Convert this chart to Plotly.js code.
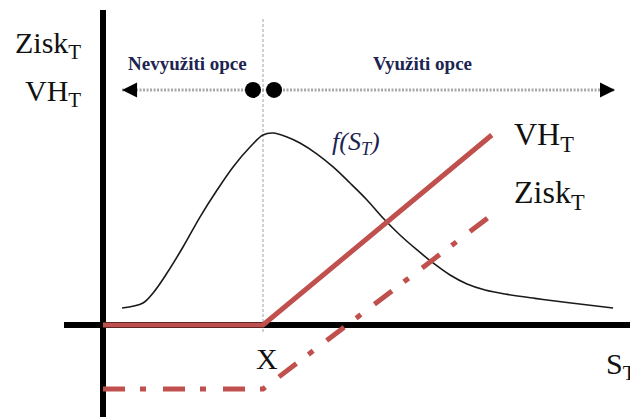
<!DOCTYPE html>
<html>
<head>
<meta charset="utf-8">
<script src="https://cdn.plot.ly/plotly-3.0.1.min.js"></script>
<style>html,body{margin:0;padding:0;background:#fff;}#chart{width:630px;height:417px;}</style>
</head>
<body>
<div id="chart"></div>
<script>
// ---- data (S_T in strike-relative units, strike X = 100) ----
var strike = 100;
var payoffS = [0, 100, 243];
var vhValues = [0, 0, 135.7];
var ziskValues = [-45.7, -45.7, 78.6];
var densityS = [11.9, 25.0, 31.3, 40.0, 50.0, 60.6, 71.3, 81.3, 91.9, 100.0, 106.3, 115.0, 123.1, 133.8, 143.8, 154.4, 165.0, 175.0, 185.6, 196.3, 206.3, 216.9, 227.5, 238.8, 251.3, 270.0, 290.0, 318.8];
var densityValues = [12.1, 15.7, 22.9, 37.1, 55.7, 77.1, 96.4, 112.9, 127.1, 135.7, 137.1, 134.3, 130.0, 122.1, 112.9, 101.4, 89.3, 76.4, 64.3, 53.6, 44.3, 35.7, 29.3, 25.0, 22.1, 19.0, 16.1, 12.1];
var arrowS = [11.9, 320];
var arrowLevel = 167.9;
var dotS = [93.75, 106.9];
var strikeLineY = [-5, 220];

var red = '#c0504d';
var serif = 'Liberation Serif, Times New Roman, serif';
var W = 630, H = 417;
function P(px){ return px / W; }
function Q(py){ return 1 - py / H; }

var traces = [
  // exercise-region arrow line
  {x: arrowS, y: [arrowLevel, arrowLevel], mode: 'lines', line: {color: '#a8a8a8', width: 3, dash: '2px,1.5px'}, hoverinfo: 'skip'},
  // strike dotted line
  {x: [strike, strike], y: strikeLineY, mode: 'lines', line: {color: '#a0a0a0', width: 1, dash: '3px,2px'}, hoverinfo: 'skip'},
  // density
  {x: densityS, y: densityValues, mode: 'lines', line: {color: '#1a1a1a', width: 1.6, shape: 'spline', smoothing: 1}, hoverinfo: 'skip'},
  // Zisk (profit)
  {x: payoffS, y: ziskValues, mode: 'lines', line: {color: red, width: 5, dash: '22px,15px,6px,17px'}, hoverinfo: 'skip'},
  // VH (payoff)
  {x: payoffS, y: vhValues, mode: 'lines', line: {color: red, width: 5}, hoverinfo: 'skip'},
  // dots at strike
  {x: dotS, y: [arrowLevel, arrowLevel], mode: 'markers', marker: {color: '#000', size: 16}, hoverinfo: 'skip'}
];

var layout = {
  width: W, height: H,
  margin: {l: 0, r: 0, t: 0, b: 0},
  paper_bgcolor: '#fff', plot_bgcolor: '#fff',
  showlegend: false,
  xaxis: {range: [-103/1.6, 527/1.6], visible: false, fixedrange: true},
  yaxis: {range: [-92/1.4, 325/1.4], visible: false, fixedrange: true},
  shapes: [
    {type: 'line', xref: 'x', yref: 'paper', x0: 0, x1: 0, y0: Q(10), y1: 0, line: {color: '#000', width: 6}, layer: 'below'},
    {type: 'line', xref: 'paper', yref: 'y', x0: P(64), x1: 1, y0: 0, y1: 0, line: {color: '#000', width: 6}, layer: 'below'}
  ],
  annotations: [
    // arrowheads
    {x: arrowS[1], y: arrowLevel, xref: 'x', yref: 'y', ax: -12, ay: 0, text: '', showarrow: true, arrowhead: 2, arrowsize: 1.5, arrowwidth: 2, arrowcolor: '#000'},
    {x: arrowS[0], y: arrowLevel, xref: 'x', yref: 'y', ax: 12, ay: 0, text: '', showarrow: true, arrowhead: 2, arrowsize: 1.5, arrowwidth: 2, arrowcolor: '#000'},
    // labels
    {xref: 'paper', yref: 'paper', x: P(83), y: Q(45), xanchor: 'right', yanchor: 'middle', showarrow: false, text: 'Zisk<sub>T</sub>', font: {family: serif, size: 30, color: '#111'}},
    {xref: 'paper', yref: 'paper', x: P(83), y: Q(93), xanchor: 'right', yanchor: 'middle', showarrow: false, text: 'VH<sub>T</sub>', font: {family: serif, size: 30, color: '#111'}},
    {xref: 'paper', yref: 'paper', x: P(187), y: Q(64), xanchor: 'center', yanchor: 'middle', showarrow: false, text: '<b>Nevyužiti opce</b>', font: {family: serif, size: 19, color: '#1c2450'}},
    {xref: 'paper', yref: 'paper', x: P(423), y: Q(64), xanchor: 'center', yanchor: 'middle', showarrow: false, text: '<b>Využiti opce</b>', font: {family: serif, size: 19, color: '#1c2450'}},
    {xref: 'paper', yref: 'paper', x: P(330), y: Q(143), xanchor: 'left', yanchor: 'middle', showarrow: false, text: '<i>f(S<sub>T</sub>)</i>', font: {family: serif, size: 26, color: '#1c2450'}},
    {xref: 'paper', yref: 'paper', x: P(512), y: Q(137), xanchor: 'left', yanchor: 'middle', showarrow: false, text: 'VH<sub>T</sub>', font: {family: serif, size: 32, color: '#111'}},
    {xref: 'paper', yref: 'paper', x: P(512), y: Q(194), xanchor: 'left', yanchor: 'middle', showarrow: false, text: 'Zisk<sub>T</sub>', font: {family: serif, size: 32, color: '#111'}},
    {xref: 'paper', yref: 'paper', x: P(267), y: Q(358), xanchor: 'center', yanchor: 'middle', showarrow: false, text: 'X', font: {family: serif, size: 30, color: '#111'}},
    {xref: 'paper', yref: 'paper', x: P(604), y: Q(366), xanchor: 'left', yanchor: 'middle', showarrow: false, text: 'S<sub>T</sub>', font: {family: serif, size: 30, color: '#111'}}
  ]
};

Plotly.newPlot('chart', traces, layout, {staticPlot: true, displayModeBar: false});
</script>
</body>
</html>
